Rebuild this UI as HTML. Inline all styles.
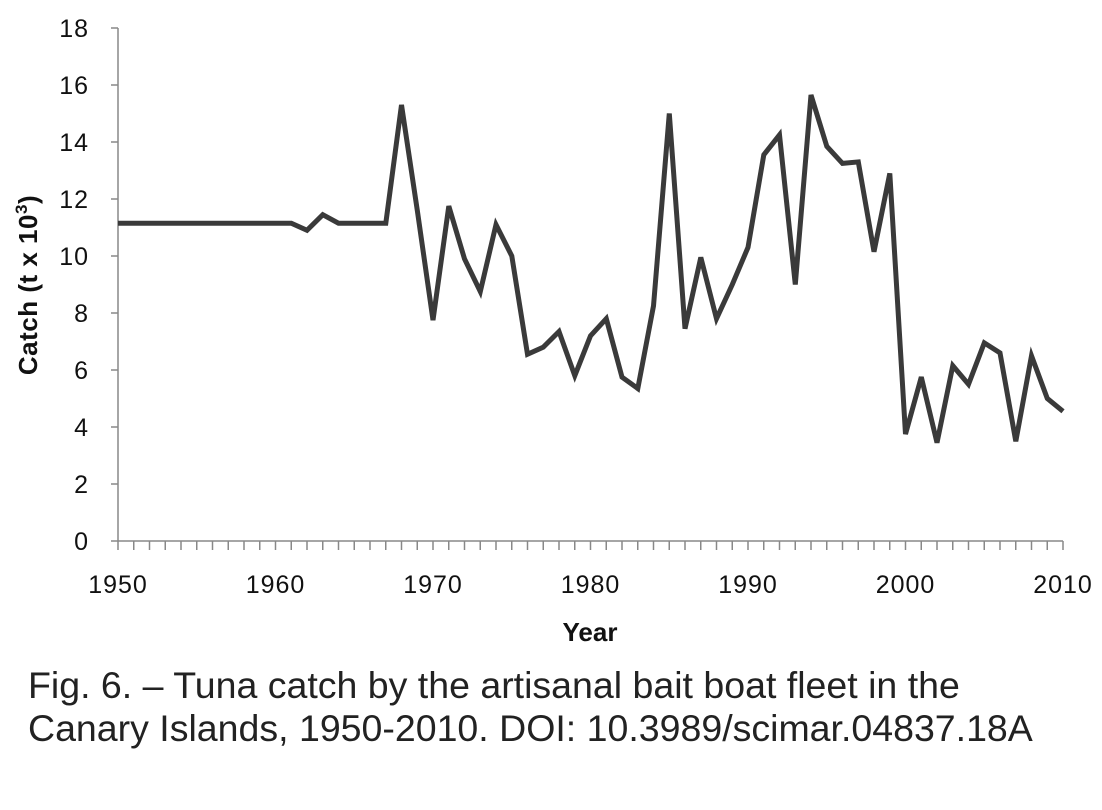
<!DOCTYPE html>
<html><head><meta charset="utf-8"><style>
body{margin:0;background:#fff;width:1102px;height:810px;overflow:hidden;font-family:"Liberation Sans",sans-serif}
#cap{position:absolute;left:28px;top:664px;font-size:37.5px;line-height:43px;color:#222;white-space:nowrap}
</style></head><body>
<svg id="chart" width="1102" height="660" style="position:absolute;left:0;top:0"></svg>
<div id="cap">Fig. 6. – Tuna catch by the artisanal bait boat fleet in the<br>Canary Islands, 1950-2010. DOI: 10.3989/scimar.04837.18A</div>
<script>
const years=[];for(let y=1950;y<=2010;y++)years.push(y);
const catchValues=[11.15,11.15,11.15,11.15,11.15,11.15,11.15,11.15,11.15,11.15,11.15,11.15,10.9,11.45,11.15,11.15,11.15,11.15,15.3,11.6,7.75,11.75,9.9,8.75,11.1,10.0,6.55,6.8,7.35,5.8,7.2,7.8,5.75,5.35,8.25,15.0,7.45,9.95,7.8,9.0,10.3,13.55,14.25,9.0,15.65,13.85,13.25,13.3,10.15,12.9,3.75,5.75,3.45,6.15,5.5,6.95,6.6,3.5,6.5,5.0,4.55];
const yTicks=[0,2,4,6,8,10,12,14,16,18];
const xTickLabels=[1950,1960,1970,1980,1990,2000,2010];
const NS="http://www.w3.org/2000/svg",svg=document.getElementById('chart');
const X0=118,X1=1063,Y0=541,Y1=28;
const xs=v=>X0+(v-1950)/60*(X1-X0), ys=v=>Y0-v/18*(Y0-Y1);
function mk(t,a,p){const e=document.createElementNS(NS,t);for(const k in a)e.setAttribute(k,a[k]);(p||svg).appendChild(e);return e;}
let e=mk('line',{x1:X0,y1:Y1,x2:X0,y2:Y0,stroke:'#888','stroke-width':1.5});


e=mk('line',{x1:X0,y1:Y0,x2:X1,y2:Y0,stroke:'#888','stroke-width':1.5});


yTicks.forEach(v=>{
 mk('line',{x1:X0-7,x2:X0,y1:ys(v),y2:ys(v),stroke:'#888','stroke-width':1.5});
 const t=mk('text',{x:X0-29,y:ys(v)+9,'text-anchor':'end','font-size':25,'letter-spacing':1,fill:'#111'});t.textContent=v;
 
 
});
years.forEach(y=>mk('line',{x1:xs(y),x2:xs(y),y1:Y0,y2:Y0+9,stroke:'#888','stroke-width':1.5}));
xTickLabels.forEach(y=>{
 const t=mk('text',{x:xs(y),y:Y0+52,'text-anchor':'middle','font-size':25,'letter-spacing':1,fill:'#111'});t.textContent=y;
 
 
});
let t=mk('text',{x:590,y:641,'text-anchor':'middle','font-size':26,'font-weight':'bold',fill:'#111'});t.textContent='Year';


t=mk('text',{transform:'translate(37,285) rotate(-90)','text-anchor':'middle','font-size':26,'font-weight':'bold','letter-spacing':0.5,fill:'#111'});
t.innerHTML='Catch (t x 10<tspan dy="-10" font-size="17">3</tspan><tspan dy="10">)</tspan>';


const pts=years.map((y,i)=>xs(y).toFixed(1)+','+ys(catchValues[i]).toFixed(1)).join(' ');
e=mk('polyline',{points:pts,fill:'none',stroke:'#3a3a3a','stroke-width':5,'stroke-linejoin':'miter'});


</script>
</body></html>
